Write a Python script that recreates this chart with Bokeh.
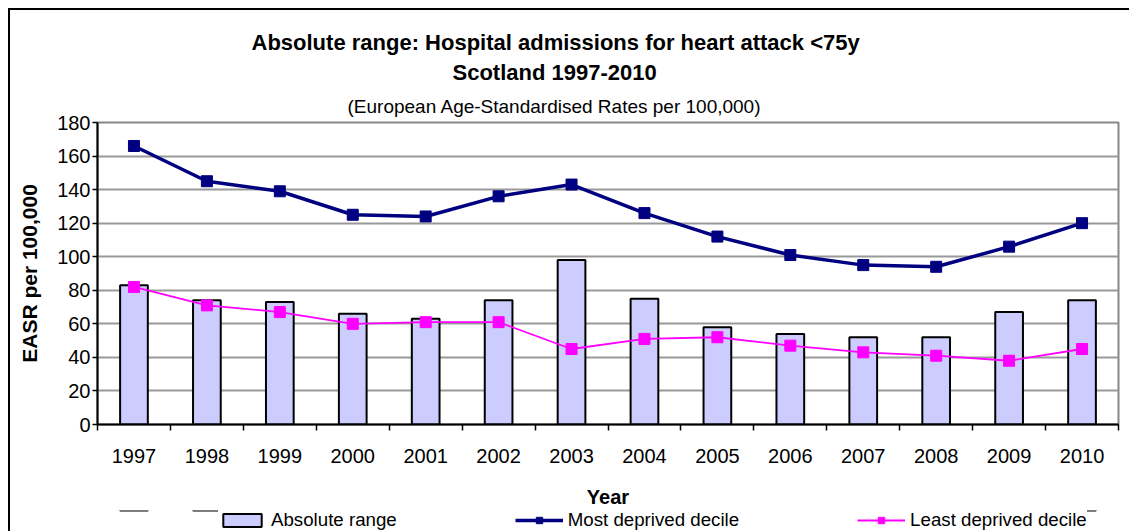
from bokeh.plotting import figure
from bokeh.layouts import column
from bokeh.models import (Range1d, LinearAxis, FixedTicker, Title,
                          SingleIntervalTicker, Legend, LegendItem, ColumnDataSource)
from bokeh.embed import file_html
from bokeh.resources import INLINE

years = ["1997", "1998", "1999", "2000", "2001", "2002", "2003",
         "2004", "2005", "2006", "2007", "2008", "2009", "2010"]
absolute_range = [83, 74, 73, 66, 63, 74, 98, 75, 58, 54, 52, 52, 67, 74]
most_deprived = [166, 145, 139, 125, 124, 136, 143, 126, 112, 101, 95, 94, 106, 120]
least_deprived = [82, 71, 67, 60, 61, 61, 45, 51, 52, 47, 43, 41, 38, 45]

FONT = "Liberation Sans"
BAR = dict(fill_color="#CCCCFF", line_color="black", line_width=2)
MOST_LINE = dict(line_color="#000080", line_width=3.5)
MOST_MARK = dict(marker="square", size=11, fill_color="#000080", line_color="#000080")
LEAST_LINE = dict(line_color="#FF00FF", line_width=1.8)
LEAST_MARK = dict(marker="square", size=11, fill_color="#FF00FF", line_color="#FF00FF")

n = len(years)
centers = [i + 0.5 for i in range(n)]   # category slot centres
edges = list(range(n + 1))              # category slot boundaries
src = ColumnDataSource(dict(x=centers, year=years, absr=absolute_range,
                            most=most_deprived, least=least_deprived))

p = figure(x_range=Range1d(0, n), y_range=Range1d(0, 180),
           width=1119, height=500, output_backend="svg", toolbar_location=None,
           x_axis_location=None, min_border_left=87, min_border_right=11,
           min_border_top=112, min_border_bottom=86)
p.outline_line_color = "#888888"
p.outline_line_width = 2
p.background_fill_color = "white"
p.border_fill_color = "white"
p.xgrid.visible = False

# y axis
ya = p.yaxis[0]
ya.ticker = SingleIntervalTicker(interval=20)
ya.minor_tick_line_color = None
ya.axis_line_color = "black"
ya.axis_line_width = 2
ya.major_tick_line_color = "black"
ya.major_tick_line_width = 1.5
ya.major_tick_out = 5
ya.major_tick_in = 0
ya.major_label_standoff = 2
ya.major_label_text_font = FONT
ya.major_label_text_font_size = "20px"
ya.major_label_text_color = "black"
ya.axis_label = "EASR per 100,000"
ya.axis_label_text_font = FONT
ya.axis_label_text_font_size = "21px"
ya.axis_label_text_font_style = "bold"
ya.axis_label_text_color = "black"
ya.axis_label_standoff = 13

p.ygrid.grid_line_color = "#999999"
p.ygrid.grid_line_width = 2

# x axis: labels at slot centres, tick marks at slot boundaries (minor ticks)
xa = LinearAxis(ticker=FixedTicker(ticks=centers, minor_ticks=edges),
                major_label_overrides={c: y for c, y in zip(centers, years)},
                axis_line_color="black", axis_line_width=2,
                major_tick_line_color=None, major_tick_out=0, major_tick_in=0,
                minor_tick_line_color="black", minor_tick_line_width=1.5,
                minor_tick_out=6, minor_tick_in=0,
                major_label_standoff=18, major_label_text_font=FONT,
                major_label_text_font_size="20px", major_label_text_color="black",
                axis_label="Year", axis_label_text_font=FONT,
                axis_label_text_font_size="20px", axis_label_text_font_style="bold",
                axis_label_text_color="black", axis_label_standoff=20)
p.add_layout(xa, "below")

# data
p.vbar(x="x", top="absr", width=0.38, bottom=0, source=src, **BAR)
p.line(x="x", y="most", source=src, **MOST_LINE)
p.scatter(x="x", y="most", source=src, **MOST_MARK)
p.line(x="x", y="least", source=src, **LEAST_LINE)
p.scatter(x="x", y="least", source=src, **LEAST_MARK)

# titles (first added sits nearest the frame); left-aligned with offsets
for txt, size, style, stand, off in [
        ("(European Age-Standardised Rates per 100,000)", "19px", "normal", 12, 250),
        ("Scotland 1997-2010", "22px", "bold", 6, 355),
        ("Absolute range: Hospital admissions for heart attack <75y", "22px", "bold", 0, 154)]:
    p.add_layout(Title(text=txt, align="left", offset=off, standoff=stand,
                       text_font=FONT, text_font_size=size, text_font_style=style,
                       text_color="black"), "above")

# legend strip (own small figure so the legend is not clipped by the chart frame);
# its y range lies far away from all data, so the proxy glyphs stay out of view
lf = figure(x_range=Range1d(0, n), y_range=Range1d(-1001, -1000), width=1119, height=21,
            output_backend="svg", toolbar_location=None, x_axis_location=None,
            y_axis_location=None, min_border=0, min_border_left=0, min_border_right=0,
            min_border_top=0, min_border_bottom=0)
lf.outline_line_color = None
lf.xgrid.visible = False
lf.ygrid.visible = False
r_bar = lf.vbar(x="x", top="absr", width=0.38, bottom=0, source=src, **BAR)
r_l1 = lf.line(x="x", y="most", source=src, **MOST_LINE)
r_m1 = lf.scatter(x="x", y="most", source=src, **MOST_MARK)
r_l2 = lf.line(x="x", y="least", source=src, **LEAST_LINE)
r_m2 = lf.scatter(x="x", y="least", source=src, **LEAST_MARK)

legend = Legend(items=[
    LegendItem(label="Absolute range", renderers=[r_bar]),
    LegendItem(label="Most deprived decile", renderers=[r_l1, r_m1]),
    LegendItem(label="Least deprived decile", renderers=[r_l2, r_m2]),
], orientation="horizontal", location=(121, 0), padding=0, margin=0,
    spacing=118, glyph_width=48, glyph_height=16, label_standoff=5, label_height=18,
    label_text_font=FONT, label_text_font_size="18.7px", label_text_color="black",
    border_line_color=None, background_fill_color="white", background_fill_alpha=1.0)
lf.add_layout(legend, "center")

page = column(p, lf, spacing=0,
              styles={"margin-left": "8px", "margin-top": "8px",
                      "border-left": "2px solid black", "border-top": "2px solid black"})

open("out.html", "w").write(file_html(page, INLINE))
